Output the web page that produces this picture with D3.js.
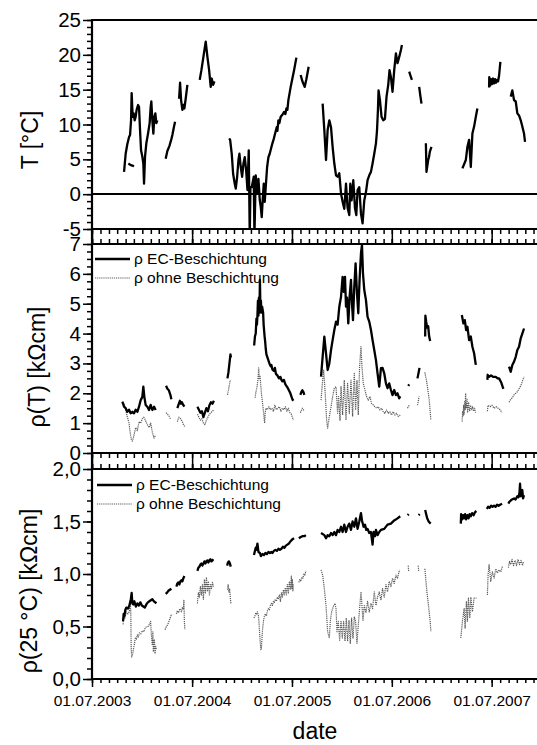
<!DOCTYPE html>
<html>
<head>
<meta charset="utf-8">
<script src="https://cdn.jsdelivr.net/npm/d3@7"></script>
<style>
body{margin:0;background:#fff;}
svg{font-family:"Liberation Sans",Arial,sans-serif;display:block;}
</style>
</head>
<body>
<svg></svg>
<script>
//all times are decimal years
//panel 1: temperature in °C, one array per measured stretch
var tempSegments = [
 [[2003.817,3.2],[2003.833,5.8],[2003.85,7.2],[2003.867,8.2],[2003.877,8.5],[2003.887,10.6],[2003.893,14.5],[2003.903,11.1],[2003.913,11.6],[2003.923,10.6],[2003.933,11.1],[2003.943,12.1],[2003.957,12.8],[2003.967,12.5],[2003.977,9.2],[2003.987,6.3],[2004.0,5.4],[2004.01,4.4],[2004.017,1.5],[2004.027,5.4],[2004.04,7.3],[2004.057,8.7],[2004.073,10.2],[2004.083,12.5],[2004.09,13.3],[2004.1,10.6],[2004.11,8.7],[2004.12,11.1],[2004.13,11.6],[2004.14,10.2],[2004.15,10.6]],
 [[2003.86,4.4],[2003.88,4.2],[2003.9,4.1],[2003.917,4.0]],
 [[2004.233,5.1],[2004.25,6.2],[2004.27,6.9],[2004.29,7.9],[2004.30,8.5],[2004.315,9.6],[2004.327,10.4]],
 [[2004.367,13.7],[2004.377,16.0],[2004.387,13.5],[2004.40,12.1],[2004.41,12.8],[2004.42,12.3],[2004.433,13.7],[2004.45,15.7]],
 [[2004.573,16.4],[2004.59,17.8],[2004.61,19.7],[2004.633,21.9],[2004.65,19.7],[2004.667,17.8],[2004.683,15.4],[2004.693,16.6],[2004.707,15.7],[2004.72,16.2]],
 [[2004.867,8.0],[2004.877,7.8],[2004.893,5.8],[2004.907,2.9],[2004.923,1.5],[2004.933,0.8],[2004.947,2.5],[2004.96,4.9],[2004.97,5.8],[2004.983,3.9],[2004.997,2.5],[2005.01,4.4],[2005.023,5.3],[2005.037,3.4],[2005.05,0.6],[2005.063,6.3],[2005.073,-6],[2005.08,1.0],[2005.093,1.0],[2005.113,2.5],[2005.12,-6],[2005.133,2.7],[2005.147,0.1],[2005.16,2.2],[2005.173,-0.8],[2005.183,-1.8],[2005.193,-3.3],[2005.203,-0.8],[2005.213,1.5],[2005.223,-1.1],[2005.233,1.0],[2005.247,3.9],[2005.26,5.3],[2005.273,5.8],[2005.287,6.6],[2005.30,7.3],[2005.313,7.9],[2005.327,8.7],[2005.343,9.6],[2005.35,9.1],[2005.36,10.6],[2005.37,10.2],[2005.383,11.1],[2005.4,11.4],[2005.417,11.8],[2005.43,11.5],[2005.44,12.3],[2005.45,12.1],[2005.46,13.5],[2005.483,15.4],[2005.50,16.6],[2005.517,17.8],[2005.54,19.6]],
 [[2005.583,17.1],[2005.6,16.2],[2005.623,15.4],[2005.64,16.5],[2005.663,18.3]],
 [[2005.803,13.0],[2005.82,9.2],[2005.837,4.9],[2005.853,9.2],[2005.87,10.6],[2005.887,9.6],[2005.903,6.8],[2005.92,4.4],[2005.937,2.7],[2005.953,2.5],[2005.97,3.0],[2005.987,0.1],[2006.003,-1.1],[2006.02,-2.1],[2006.037,1.5],[2006.053,-2.0],[2006.07,-3.0],[2006.08,1.5],[2006.093,-0.9],[2006.11,2.0],[2006.127,-2.0],[2006.14,-3.0],[2006.153,0.6],[2006.17,1.0],[2006.187,-2.8],[2006.203,-4.2],[2006.22,-0.9],[2006.237,0.3],[2006.253,2.0],[2006.27,2.7],[2006.287,3.2],[2006.303,4.4],[2006.32,5.8],[2006.337,7.3],[2006.347,9.0],[2006.357,12.1],[2006.363,14.9],[2006.377,13.5],[2006.393,11.1],[2006.41,10.6],[2006.427,10.8],[2006.443,14.0],[2006.46,15.7],[2006.473,17.8],[2006.487,16.8],[2006.503,14.7],[2006.52,17.8],[2006.537,20.2],[2006.553,18.8],[2006.57,19.7],[2006.587,20.7],[2006.597,21.4]],
 [[2006.67,17.6],[2006.683,17.0],[2006.697,16.4]],
 [[2006.77,15.4],[2006.78,14.3],[2006.793,13.0]],
 [[2006.837,7.3],[2006.843,3.2],[2006.86,4.9],[2006.868,5.3],[2006.877,6.1],[2006.893,6.8]],
 [[2007.203,3.7],[2007.237,4.9],[2007.253,6.8],[2007.27,7.8],[2007.287,3.9],[2007.303,8.7],[2007.32,9.7],[2007.337,11.1],[2007.353,12.3]],
 [[2007.47,15.3],[2007.472,16.8],[2007.48,15.6],[2007.49,16.5],[2007.5,15.8],[2007.51,16.6],[2007.52,15.9],[2007.53,16.5],[2007.54,16.0],[2007.55,16.4],[2007.56,16.2],[2007.57,17.0],[2007.583,19.0]],
 [[2007.687,14.0],[2007.703,14.9],[2007.72,13.5],[2007.737,13.3],[2007.753,11.6],[2007.77,11.3],[2007.787,10.6],[2007.803,9.7],[2007.82,8.7],[2007.83,7.5]]
];

//panel 2: rho(T) in kOhm cm, with EC coating
var ecRhoT = [
 [[2003.80,1.72],[2003.817,1.55],[2003.833,1.5],[2003.85,1.38],[2003.867,1.45],[2003.883,1.33],[2003.90,1.38],[2003.917,1.33],[2003.933,1.45],[2003.95,1.38],[2003.967,1.55],[2003.983,1.77],[2004.0,1.88],[2004.01,2.22],[2004.02,1.88],[2004.033,1.61],[2004.05,1.55],[2004.067,1.44],[2004.083,1.61],[2004.1,1.44],[2004.117,1.55],[2004.133,1.44]],
 [[2004.237,2.25],[2004.25,2.15],[2004.265,2.1],[2004.28,1.95],[2004.29,1.8]],
 [[2004.35,1.5],[2004.36,1.6],[2004.375,1.75],[2004.385,1.65],[2004.395,1.7],[2004.41,1.6],[2004.42,1.55]],
 [[2004.55,1.55],[2004.565,1.45],[2004.58,1.35],[2004.595,1.4],[2004.61,1.2],[2004.625,1.35],[2004.64,1.5],[2004.655,1.4],[2004.67,1.6],[2004.685,1.7],[2004.7,1.65],[2004.715,1.75]],
 [[2004.85,2.5],[2004.86,2.7],[2004.87,3.0],[2004.88,3.3],[2004.885,3.2]],
 [[2005.117,3.6],[2005.125,3.9],[2005.133,4.0],[2005.14,4.5],[2005.145,4.3],[2005.15,4.6],[2005.155,5.1],[2005.16,4.6],[2005.165,5.2],[2005.17,4.7],[2005.175,5.8],[2005.18,4.8],[2005.185,5.1],[2005.19,4.7],[2005.197,4.9],[2005.207,4.7],[2005.212,4.3],[2005.217,4.1],[2005.222,3.9],[2005.227,3.75],[2005.233,3.5],[2005.24,3.3],[2005.25,3.2],[2005.26,3.1],[2005.27,3.0],[2005.283,2.9],[2005.29,2.95],[2005.30,2.8],[2005.315,2.75],[2005.325,2.85],[2005.335,2.65],[2005.35,2.6],[2005.365,2.5],[2005.38,2.55],[2005.39,2.45],[2005.40,2.4],[2005.415,2.45],[2005.43,2.3],[2005.45,2.2],[2005.465,2.1],[2005.48,2.0],[2005.49,1.9],[2005.50,1.8],[2005.51,1.75]],
 [[2005.58,1.95],[2005.59,2.05],[2005.6,2.1],[2005.61,2.05],[2005.62,1.95]],
 [[2005.787,2.56],[2005.803,3.22],[2005.82,3.9],[2005.837,3.34],[2005.853,2.78],[2005.87,3.0],[2005.887,3.45],[2005.903,3.78],[2005.92,4.12],[2005.937,4.4],[2005.953,4.3],[2005.97,4.9],[2005.987,5.23],[2006.003,5.9],[2006.013,5.4],[2006.027,5.9],[2006.037,4.9],[2006.047,5.2],[2006.06,4.34],[2006.073,5.23],[2006.087,5.8],[2006.097,5.0],[2006.107,4.45],[2006.12,5.57],[2006.133,6.35],[2006.147,5.35],[2006.16,4.68],[2006.173,5.8],[2006.187,6.69],[2006.197,6.97],[2006.207,6.02],[2006.22,5.46],[2006.237,5.12],[2006.253,4.56],[2006.27,4.4],[2006.287,4.12],[2006.303,3.78],[2006.32,3.45],[2006.337,3.11],[2006.353,2.67],[2006.37,2.22],[2006.387,2.84],[2006.403,2.85],[2006.42,2.67],[2006.437,2.33],[2006.453,2.17],[2006.47,2.33],[2006.487,2.11],[2006.503,1.94],[2006.52,2.11],[2006.537,1.94],[2006.553,2.0],[2006.57,1.83],[2006.58,1.9]],
 [[2006.66,2.25],[2006.67,2.3]],
 [[2006.753,2.5],[2006.773,2.85]],
 [[2006.83,3.9],[2006.832,4.6],[2006.84,4.4],[2006.85,4.2],[2006.86,4.25],[2006.87,3.9],[2006.88,3.75]],
 [[2007.197,4.62],[2007.213,4.34],[2007.227,4.45],[2007.24,4.12],[2007.253,4.23],[2007.27,3.78],[2007.287,3.9],[2007.303,3.56],[2007.32,3.34],[2007.337,2.95]],
 [[2007.453,2.45],[2007.456,2.62],[2007.47,2.55],[2007.49,2.6],[2007.51,2.55],[2007.537,2.55],[2007.555,2.5],[2007.57,2.5],[2007.593,2.35],[2007.613,2.15]],
 [[2007.67,2.89],[2007.687,2.72],[2007.703,2.95],[2007.72,3.06],[2007.737,3.22],[2007.753,3.45],[2007.77,3.56],[2007.787,3.84],[2007.803,4.0],[2007.82,4.17]]
];

//panel 2: rho(T) without coating
var ohneRhoT = [
 [[2003.817,1.65],[2003.833,1.45],[2003.85,1.2],[2003.867,1.0],[2003.877,0.7],[2003.89,0.45],[2003.9,0.4],[2003.91,0.5],[2003.933,0.85],[2003.95,0.75],[2003.967,1.05],[2003.983,1.0],[2004.0,1.15],[2004.015,1.2],[2004.03,1.1],[2004.05,0.95],[2004.067,0.85],[2004.083,1.0],[2004.1,0.7],[2004.117,0.5],[2004.133,0.6]],
 [[2004.237,1.35],[2004.25,1.3],[2004.265,1.25],[2004.28,1.15]],
 [[2004.35,1.05],[2004.365,1.2],[2004.38,1.15],[2004.4,1.05],[2004.41,0.95],[2004.425,0.88]],
 [[2004.55,1.3],[2004.565,1.2],[2004.58,1.1],[2004.595,1.15],[2004.61,1.0],[2004.625,0.95],[2004.64,1.1],[2004.655,1.2],[2004.67,1.3],[2004.685,1.35],[2004.7,1.4],[2004.715,1.45]],
 [[2004.85,1.95],[2004.86,2.1],[2004.87,2.3],[2004.88,2.45]],
 [[2005.127,1.85],[2005.135,2.05],[2005.145,2.2],[2005.155,2.45],[2005.163,2.85],[2005.168,2.5],[2005.175,2.6],[2005.183,2.3],[2005.19,2.0],[2005.2,1.7],[2005.21,1.4],[2005.222,1.0],[2005.228,1.35],[2005.235,1.5],[2005.25,1.45],[2005.265,1.55],[2005.28,1.45],[2005.295,1.5],[2005.31,1.4],[2005.325,1.6],[2005.34,1.45],[2005.355,1.5],[2005.37,1.55],[2005.385,1.4],[2005.4,1.5],[2005.415,1.45],[2005.43,1.55],[2005.445,1.4],[2005.46,1.5],[2005.475,1.35],[2005.49,1.3],[2005.5,1.2],[2005.51,1.1]],
 [[2005.58,1.35],[2005.6,1.5],[2005.62,1.4]],
 [[2005.787,1.77],[2005.803,2.44],[2005.813,2.78],[2005.827,2.11],[2005.843,1.1],[2005.853,0.83],[2005.87,1.22],[2005.887,1.55],[2005.903,1.89],[2005.92,2.17],[2005.937,2.22],[2005.953,1.33],[2005.963,1.89],[2005.977,1.1],[2005.987,2.22],[2006.003,1.27],[2006.02,2.44],[2006.037,1.1],[2006.053,2.33],[2006.07,1.33],[2006.087,2.44],[2006.103,1.22],[2006.12,2.67],[2006.133,1.44],[2006.147,2.44],[2006.16,1.27],[2006.173,2.89],[2006.187,3.56],[2006.197,2.89],[2006.21,2.33],[2006.227,2.11],[2006.243,1.89],[2006.26,1.77],[2006.277,1.89],[2006.293,1.66],[2006.31,1.61],[2006.327,1.55],[2006.343,1.5],[2006.36,1.55],[2006.377,1.44],[2006.393,1.5],[2006.41,1.38],[2006.427,1.33],[2006.443,1.44],[2006.46,1.33],[2006.477,1.38],[2006.493,1.27],[2006.51,1.38],[2006.527,1.27],[2006.543,1.33],[2006.56,1.22],[2006.58,1.27]],
 [[2006.653,1.5],[2006.67,1.6]],
 [[2006.753,1.6],[2006.77,1.9]],
 [[2006.827,2.7],[2006.847,2.35],[2006.87,1.8],[2006.887,1.1]],
 [[2007.2,1.05],[2007.205,1.4],[2007.21,1.25],[2007.215,1.6],[2007.22,1.3],[2007.225,1.75],[2007.23,1.45],[2007.235,2.0],[2007.24,1.5],[2007.25,1.8],[2007.255,1.35],[2007.265,1.7],[2007.275,1.4],[2007.285,1.6],[2007.295,1.45],[2007.305,1.55],[2007.315,1.4],[2007.325,1.5],[2007.335,1.35]],
 [[2007.453,1.4],[2007.46,1.6],[2007.48,1.55],[2007.5,1.6],[2007.52,1.5],[2007.54,1.55],[2007.56,1.5],[2007.58,1.45],[2007.6,1.35]],
 [[2007.67,1.7],[2007.687,1.8],[2007.703,1.85],[2007.72,1.95],[2007.737,2.0],[2007.753,2.05],[2007.77,2.15],[2007.787,2.25],[2007.803,2.4],[2007.82,2.55]]
];

//panel 3: rho at 25 °C, with EC coating
var ec25 = [
 [[2003.807,0.55],[2003.813,0.62],[2003.82,0.6],[2003.83,0.66],[2003.84,0.68],[2003.855,0.67],[2003.87,0.70],[2003.885,0.76],[2003.893,0.82],[2003.9,0.72],[2003.91,0.71],[2003.92,0.74],[2003.935,0.69],[2003.95,0.72],[2003.965,0.70],[2003.98,0.73],[2003.995,0.70],[2004.01,0.69],[2004.025,0.68],[2004.04,0.71],[2004.055,0.73],[2004.07,0.74],[2004.085,0.75],[2004.1,0.76],[2004.115,0.74],[2004.13,0.73],[2004.14,0.72]],
 [[2004.233,0.81],[2004.245,0.82],[2004.26,0.84],[2004.275,0.85],[2004.29,0.86]],
 [[2004.34,0.88],[2004.35,0.91],[2004.36,0.92],[2004.37,0.90],[2004.38,0.93],[2004.39,0.94],[2004.40,0.93],[2004.41,0.96],[2004.42,0.98]],
 [[2004.55,1.03],[2004.56,1.06],[2004.57,1.07],[2004.58,1.09],[2004.59,1.10],[2004.6,1.08],[2004.61,1.10],[2004.62,1.12],[2004.63,1.10],[2004.64,1.12],[2004.65,1.13],[2004.66,1.11],[2004.67,1.13],[2004.68,1.14],[2004.69,1.12],[2004.7,1.13],[2004.71,1.14]],
 [[2004.847,1.08],[2004.855,1.11],[2004.865,1.12],[2004.875,1.10],[2004.883,1.07]],
 [[2005.115,1.18],[2005.125,1.22],[2005.133,1.25],[2005.14,1.23],[2005.15,1.29],[2005.155,1.25],[2005.16,1.21],[2005.175,1.2],[2005.185,1.17],[2005.2,1.19],[2005.215,1.18],[2005.23,1.2],[2005.245,1.19],[2005.26,1.21],[2005.275,1.2],[2005.29,1.21],[2005.3,1.2],[2005.315,1.22],[2005.33,1.23],[2005.345,1.22],[2005.36,1.24],[2005.375,1.23],[2005.39,1.24],[2005.405,1.26],[2005.42,1.25],[2005.435,1.27],[2005.45,1.28],[2005.465,1.29],[2005.48,1.31],[2005.49,1.32],[2005.5,1.33],[2005.517,1.34]],
 [[2005.565,1.34],[2005.58,1.35],[2005.6,1.36],[2005.62,1.36],[2005.635,1.37]],
 [[2005.787,1.39],[2005.82,1.37],[2005.837,1.34],[2005.853,1.37],[2005.87,1.36],[2005.887,1.39],[2005.903,1.37],[2005.92,1.40],[2005.937,1.37],[2005.953,1.42],[2005.97,1.40],[2005.987,1.45],[2006.003,1.40],[2006.02,1.47],[2006.037,1.40],[2006.053,1.45],[2006.07,1.48],[2006.087,1.42],[2006.103,1.50],[2006.12,1.45],[2006.137,1.53],[2006.153,1.43],[2006.17,1.50],[2006.187,1.58],[2006.197,1.51],[2006.213,1.45],[2006.227,1.47],[2006.24,1.42],[2006.253,1.43],[2006.27,1.39],[2006.287,1.40],[2006.303,1.28],[2006.313,1.40],[2006.327,1.36],[2006.337,1.42],[2006.353,1.37],[2006.37,1.40],[2006.387,1.42],[2006.42,1.43],[2006.453,1.47],[2006.487,1.48],[2006.52,1.51],[2006.553,1.53],[2006.58,1.55]],
 [[2006.655,1.56],[2006.665,1.57]],
 [[2006.765,1.56],[2006.775,1.57]],
 [[2006.83,1.61],[2006.84,1.57],[2006.85,1.53],[2006.865,1.5],[2006.885,1.48]],
 [[2007.187,1.48],[2007.19,1.57],[2007.2,1.52],[2007.21,1.56],[2007.22,1.53],[2007.23,1.57],[2007.24,1.52],[2007.253,1.56],[2007.265,1.53],[2007.275,1.57],[2007.287,1.55],[2007.3,1.58],[2007.315,1.56],[2007.33,1.59],[2007.343,1.6]],
 [[2007.447,1.62],[2007.46,1.64],[2007.475,1.63],[2007.49,1.65],[2007.505,1.64],[2007.52,1.65],[2007.535,1.64],[2007.55,1.66],[2007.565,1.65],[2007.58,1.66],[2007.6,1.67]],
 [[2007.663,1.67],[2007.675,1.69],[2007.687,1.70],[2007.7,1.71],[2007.72,1.72],[2007.735,1.71],[2007.753,1.74],[2007.765,1.73],[2007.775,1.78],[2007.78,1.86],[2007.787,1.74],[2007.795,1.77],[2007.803,1.80],[2007.81,1.72],[2007.82,1.75]]
];

//panel 3: rho at 25 °C without coating
var ohne25 = [
 [[2003.807,0.52],[2003.815,0.6],[2003.825,0.58],[2003.84,0.64],[2003.855,0.62],[2003.87,0.64],[2003.88,0.75],[2003.885,0.6],[2003.888,0.3],[2003.893,0.21],[2003.9,0.22],[2003.91,0.28],[2003.92,0.33],[2003.93,0.39],[2003.94,0.38],[2003.95,0.42],[2003.96,0.40],[2003.97,0.44],[2003.985,0.43],[2004.0,0.46],[2004.015,0.45],[2004.03,0.49],[2004.045,0.50],[2004.06,0.5],[2004.075,0.53],[2004.083,0.55],[2004.09,0.42],[2004.1,0.32],[2004.105,0.45],[2004.11,0.26],[2004.12,0.38],[2004.127,0.24],[2004.133,0.31],[2004.14,0.28]],
 [[2004.227,0.47],[2004.24,0.5],[2004.255,0.52],[2004.27,0.56],[2004.285,0.6],[2004.295,0.62]],
 [[2004.34,0.62],[2004.35,0.65],[2004.36,0.63],[2004.375,0.67],[2004.39,0.64],[2004.4,0.68],[2004.41,0.66],[2004.415,0.75],[2004.42,0.55],[2004.425,0.47]],
 [[2004.55,0.72],[2004.56,0.82],[2004.57,0.78],[2004.58,0.88],[2004.59,0.8],[2004.6,0.9],[2004.61,0.76],[2004.62,0.95],[2004.63,0.82],[2004.64,0.97],[2004.65,0.84],[2004.66,0.93],[2004.67,0.8],[2004.68,0.9],[2004.69,0.86],[2004.7,0.92],[2004.71,0.88]],
 [[2004.85,0.85],[2004.857,0.9],[2004.865,0.83],[2004.872,0.86],[2004.88,0.76],[2004.885,0.72]],
 [[2005.115,0.58],[2005.125,0.6],[2005.133,0.63],[2005.14,0.62],[2005.15,0.64],[2005.16,0.6],[2005.165,0.55],[2005.173,0.42],[2005.18,0.32],[2005.185,0.28],[2005.19,0.3],[2005.195,0.38],[2005.2,0.46],[2005.21,0.55],[2005.22,0.6],[2005.23,0.62],[2005.24,0.6],[2005.25,0.65],[2005.26,0.67],[2005.27,0.66],[2005.28,0.7],[2005.29,0.72],[2005.3,0.7],[2005.31,0.74],[2005.32,0.73],[2005.33,0.76],[2005.34,0.74],[2005.35,0.78],[2005.36,0.76],[2005.37,0.8],[2005.38,0.74],[2005.39,0.82],[2005.4,0.78],[2005.41,0.85],[2005.42,0.8],[2005.43,0.87],[2005.44,0.8],[2005.45,0.9],[2005.46,0.82],[2005.47,0.93],[2005.48,0.85],[2005.49,0.98],[2005.495,0.86],[2005.5,0.95],[2005.505,0.84],[2005.51,0.9]],
 [[2005.565,0.92],[2005.575,0.95],[2005.585,0.93],[2005.595,0.97],[2005.605,0.96],[2005.615,1.0],[2005.625,0.99],[2005.635,1.03]],
 [[2005.787,1.04],[2005.803,0.99],[2005.82,0.86],[2005.837,0.70],[2005.853,0.45],[2005.87,0.39],[2005.88,0.55],[2005.893,0.64],[2005.91,0.69],[2005.927,0.72],[2005.937,0.67],[2005.947,0.45],[2005.96,0.55],[2005.973,0.37],[2005.987,0.55],[2006.0,0.39],[2006.013,0.55],[2006.027,0.36],[2006.04,0.58],[2006.053,0.36],[2006.067,0.56],[2006.08,0.34],[2006.093,0.58],[2006.107,0.39],[2006.12,0.59],[2006.133,0.55],[2006.147,0.34],[2006.16,0.51],[2006.173,0.67],[2006.187,0.83],[2006.197,0.70],[2006.207,0.55],[2006.22,0.70],[2006.237,0.63],[2006.253,0.74],[2006.27,0.64],[2006.287,0.72],[2006.303,0.67],[2006.32,0.83],[2006.337,0.70],[2006.353,0.78],[2006.37,0.83],[2006.387,0.75],[2006.403,0.86],[2006.42,0.78],[2006.437,0.90],[2006.453,0.83],[2006.47,0.93],[2006.487,0.88],[2006.503,0.96],[2006.52,0.91],[2006.537,0.99],[2006.553,0.96],[2006.573,1.04]],
 [[2006.66,1.08],[2006.665,1.02]],
 [[2006.76,1.08],[2006.765,1.03]],
 [[2006.827,1.05],[2006.847,0.83],[2006.863,0.70],[2006.88,0.55],[2006.887,0.45]],
 [[2007.187,0.39],[2007.203,0.55],[2007.22,0.67],[2007.23,0.48],[2007.243,0.74],[2007.253,0.55],[2007.263,0.77],[2007.277,0.58],[2007.287,0.78],[2007.303,0.64],[2007.32,0.77],[2007.343,0.77]],
 [[2007.453,0.8],[2007.46,0.99],[2007.47,1.09],[2007.487,0.93],[2007.503,1.02],[2007.52,0.96],[2007.537,1.05],[2007.553,1.01],[2007.57,1.04],[2007.587,1.02],[2007.603,1.07]],
 [[2007.663,1.06],[2007.675,1.12],[2007.687,1.09],[2007.7,1.14],[2007.715,1.08],[2007.73,1.13],[2007.745,1.08],[2007.76,1.14],[2007.775,1.09],[2007.79,1.13],[2007.805,1.08],[2007.815,1.12]]
];

//tick values and labels
var tempTicks = [-5,0,5,10,15,20,25];
var rhoTTicks = [0,1,2,3,4,5,6,7];
var rho25Ticks = [0,0.5,1.0,1.5,2.0];
var rho25Labels = ["0,0","0,5","1,0","1,5","2,0"];
var yearTicks = ["2003-07-01","2004-07-01","2005-07-01","2006-07-01","2007-07-01"];
var legendNames = ["ρ EC-Beschichtung","ρ ohne Beschichtung"];

//decimal year -> Date
var toDate = function(dy)
{
    var y = Math.floor(dy);
    var a = new Date(y,0,1), b = new Date(y+1,0,1);
    return new Date(a.getTime() + (dy-y)*(b-a));
}

var makeTranslateString = function(x,y)
{
    return "translate("+x+","+y+")";
}

var screen = {width:537,height:745};
var plotX = {left:92,right:542};

var svg = d3.select("svg")
    .attr("width",screen.width)
    .attr("height",screen.height);

var parseDay = d3.timeParse("%Y-%m-%d");
var xScale = d3.scaleTime()
    .domain([new Date(2003,6,1),new Date(2008,0,1)])
    .range([plotX.left,plotX.right]);
var majorDates = yearTicks.map(parseDay);
var minorDates = xScale.ticks(d3.timeMonth.every(1));

var panels = [
    {top:20,bottom:229,domain:[-5,25],ticks:tempTicks,minor:1,fmt:function(d){return String(d);},
     title:"T [°C]",titleX:38,titleY:140},
    {top:244,bottom:453,domain:[0,7],ticks:rhoTTicks,minor:0.25,fmt:function(d){return String(d);},
     title:"ρ(T) [kΩcm]",titleX:45,titleY:367},
    {top:469,bottom:679,domain:[0,2],ticks:rho25Ticks,minor:0.1,fmt:function(d,i){return rho25Labels[i];},
     title:"ρ(25 °C) [kΩcm]",titleX:37,titleY:591}
];

panels.forEach(function(p,i)
{
    p.y = d3.scaleLinear().domain(p.domain).range([p.bottom,p.top]);
    svg.append("clipPath").attr("id","clip"+i)
        .append("rect")
        .attr("x",plotX.left).attr("y",p.top)
        .attr("width",plotX.right-plotX.left).attr("height",p.bottom-p.top);
});

var line = function(yScale)
{
    return d3.line()
        .x(function(d){return xScale(toDate(d[0]));})
        .y(function(d){return yScale(d[1]);});
}

//draws one series (list of segments) into a panel
var drawSeries = function(segments,panelIndex,style)
{
    var p = panels[panelIndex];
    var g = svg.append("g").attr("clip-path","url(#clip"+panelIndex+")");
    g.selectAll("path")
        .data(segments)
        .enter()
        .append("path")
        .attr("d",line(p.y))
        .attr("fill","none")
        .attr("stroke",style.color)
        .attr("stroke-width",style.width)
        .attr("stroke-dasharray",style.dash)
        .attr("stroke-linejoin","round");
}

var black = {color:"#000",width:2.3,dash:null};
var grey = {color:"#5a5a5a",width:1.2,dash:"1.2,0.9"};

drawSeries(tempSegments,0,black);
drawSeries(ohneRhoT,1,grey);
drawSeries(ecRhoT,1,black);
drawSeries(ohne25,2,grey);
drawSeries(ec25,2,black);

//y axes
panels.forEach(function(p)
{
    var minorVals = d3.range(p.domain[0],p.domain[1]+p.minor/2,p.minor);
    var minorAxis = svg.append("g")
        .attr("transform",makeTranslateString(plotX.left,0))
        .call(d3.axisLeft(p.y).tickValues(minorVals).tickSize(5).tickFormat(""));
    minorAxis.select(".domain").remove();

    var majorAxis = svg.append("g")
        .attr("transform",makeTranslateString(plotX.left,0))
        .call(d3.axisLeft(p.y).tickValues(p.ticks).tickSize(9).tickPadding(2).tickFormat(p.fmt));
    majorAxis.select(".domain").remove();
    majorAxis.selectAll("text")
        .attr("font-size",20.5)
        .attr("font-family","'Liberation Sans',Arial,sans-serif")
        .attr("fill","#000");

    svg.append("g")
        .attr("transform",makeTranslateString(p.titleX,p.titleY))
        .append("text")
        .text(p.title)
        .attr("text-anchor","middle")
        .attr("font-size",23)
        .attr("transform","rotate(270)");
});

svg.selectAll(".tick line").attr("stroke","#000").attr("stroke-width",1.5);

//x axes: bottom of each panel (ticks down) and top of lower panels (ticks up)
var xAxisAt = function(y,dir,minorLen,majorLen,labels)
{
    var mk = dir=="down" ? d3.axisBottom : d3.axisTop;
    var gMin = svg.append("g").attr("transform",makeTranslateString(0,y))
        .call(mk(xScale).tickValues(minorDates).tickSize(minorLen).tickFormat(""));
    gMin.select(".domain").remove();
    var gMaj = svg.append("g").attr("transform",makeTranslateString(0,y))
        .call(mk(xScale).tickValues(majorDates).tickSize(majorLen).tickPadding(8)
              .tickFormat(labels ? d3.timeFormat("%d.%m.%Y") : ""));
    gMaj.select(".domain").remove();
    gMaj.selectAll("text").attr("font-size",15.5)
        .attr("font-family","'Liberation Sans',Arial,sans-serif").attr("fill","#000");
    svg.selectAll(".tick line").attr("stroke","#000").attr("stroke-width",1.5);
}

xAxisAt(229,"down",5,15,false);
xAxisAt(244,"up",5,5,false);
xAxisAt(453,"down",5,16,false);
xAxisAt(469,"up",5,5,false);
xAxisAt(679,"down",4,8,true);

//frame lines
var hLines = [20,194,229,244,453,469,679];
svg.selectAll(".hline")
    .data(hLines)
    .enter()
    .append("line")
    .attr("x1",plotX.left).attr("x2",plotX.right)
    .attr("y1",function(d){return d;}).attr("y2",function(d){return d;})
    .attr("stroke","#000").attr("stroke-width",2);

svg.append("line")
    .attr("x1",plotX.left).attr("x2",plotX.left)
    .attr("y1",19).attr("y2",680)
    .attr("stroke","#000").attr("stroke-width",2.2);

//legends
var drawLegend = function(x,y)
{
    var styles = [black,grey];
    legendNames.forEach(function(name,i)
    {
        var yy = y + i*19;
        svg.append("line")
            .attr("x1",x).attr("x2",x+35)
            .attr("y1",yy).attr("y2",yy)
            .attr("stroke",styles[i].color)
            .attr("stroke-width",styles[i].width)
            .attr("stroke-dasharray",styles[i].dash);
        svg.append("text")
            .text(name)
            .attr("x",x+39)
            .attr("y",yy+5)
            .attr("font-size",15.5);
    });
}
drawLegend(95,259);
drawLegend(97,485);

svg.append("text")
    .text("date")
    .attr("x",315)
    .attr("y",739)
    .attr("text-anchor","middle")
    .attr("font-size",23);
</script>
</body>
</html>
